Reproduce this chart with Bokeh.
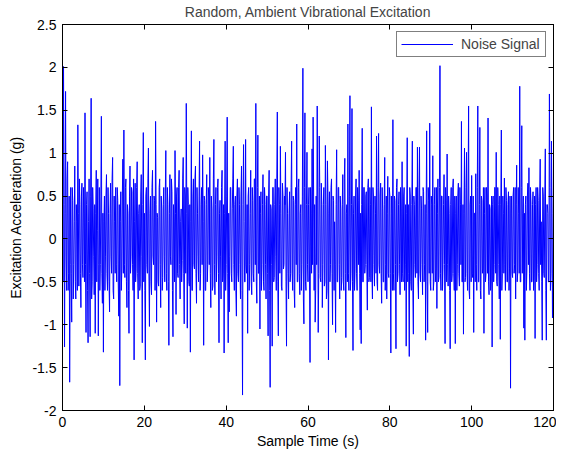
from bokeh.plotting import figure
from bokeh.models import (LinearAxis, FixedTicker, CustomJSTickFormatter, ColumnDataSource,
                          Legend, LegendItem)
from bokeh.embed import file_html
from bokeh.resources import INLINE

# ---- data (samples every 0.125 s) ----
sample_interval = 0.125
# samples at t = 0, 0.25, 0.5, ...
signal_a = [
    0.35, 2.01, -1.26, 1.72, -0.6, 0.9, -0.4, -1.67, 0.6, -0.97, 0.45, -0.3, 0.85, -0.7, 0.2, 1.33, -0.55, 0.4, -0.8, 0.65,
    -0.45, 0.3, 1.47, -1.09, 0.55, -1.21, 0.7, -1.14, 1.64, -0.5, 0.35, -0.65, -1.1, 0.8, 0.1, -1.13, 0.6, -0.3, 1.43, -0.75,
    -1.32, 0.5, -0.2, 0.75, -0.6, 0.3, -0.85, 0.65, -0.4, 0.95, -0.7, 0.2, 0.6, -0.5, 0.45, -0.9, -1.71, 0.55, -0.35, 0.93,
    1.27, -0.45, 0.7, -0.8, 0.3, -1.1, 0.85, -0.2, 0.55, -0.6, -1.41, 0.65, -0.35, 0.9, -0.7, 0.4, -0.55, 0.75, -1.21, 1.24,
    0.3, -1.41, 0.6, -0.4, 1.06, -1.02, 0.5, -0.65, 0.8, -0.3, 0.45, 1.37, -0.97, 0.25, -0.55, 0.7, -0.8, 0.35, -0.45, 0.6,
    -0.5, 1.03, -0.6, 0.4, -1.24, 0.75, -0.3, 0.55, -1.14, 0.2, 1.03, -0.88, 0.6, -0.45, 0.8, -0.7, 0.35, -0.25, 0.95, -0.99,
    0.5, 1.58, -1.04, 0.4, -0.55, -1.32, 1.26, -0.6, 0.7, -0.35, 0.85, -0.75, 0.3, -0.5, 1.14, -0.4, 0.6, 0.98, -1.24, 0.45,
    -0.6, 0.75, -0.3, 0.5, 0.95, -0.8, 0.35, -0.55, 1.16, -0.65, 0.6, -0.2, 0.7, -1.21, 0.45, -0.7, 0.8, -0.4, -1.33, 1.14,
    -0.3, 1.42, -1.21, -0.85, 0.6, -0.4, 0.35, 1.08, -0.6, 0.5, -0.9, 0.7, -0.5, 0.4, -0.7, 0.85, -1.82, 1.10, -0.5, 1.16,
    -0.4, -1.1, 0.6, -0.3, 0.8, -0.65, 0.45, -0.5, 0.7, 1.58, -0.75, 1.21, -0.4, -1.05, 0.55, -0.3, 0.75, -0.6, 0.4, -0.7,
    0.5, -1.13, 0.8, -1.73, 0.35, -1.25, 0.6, -0.45, 0.7, -0.6, 1.48, -1.13, 0.4, 1.08, -0.55, 0.65, -0.35, 0.5, 1.01, -1.25,
    0.3, -0.7, 0.55, -0.4, 1.14, -0.6, 0.45, -0.8, 0.6, 1.34, -0.5, 0.7, -0.65, 0.4, -0.3, 1.99, -0.99, 1.47, -0.6, 1.01,
    -0.5, 0.6, -1.44, 0.3, 1.05, 1.42, -0.6, -0.97, 0.5, 1.55, -1.09, 1.2, -0.45, 0.65, -0.8, 0.4, -0.55, 1.09, -0.7, 0.91,
    -1.41, 0.55, -0.3, 0.7, -1.0, 0.45, 0.2, -1.09, 1.04, -0.5, 0.6, -0.7, 0.35, -0.45, 0.75, -0.6, 0.94, -1.15, 0.4, 1.34,
    -0.6, 1.67, -0.4, 1.52, -1.3, 0.5, -0.35, 0.7, -0.6, 0.45, 0.8, -1.06, -1.22, 1.29, -0.5, 0.6, -0.3, 0.55, -0.83, 0.7,
    -0.45, 0.4, 1.54, -0.7, 0.5, -0.55, 0.3, 1.2, -0.6, 1.23, -0.4, 0.65, -0.75, 0.35, -0.5, 0.95, -0.3, -0.7, 0.73, -0.45,
    0.5, -1.33, 0.3, 1.39, -0.6, 0.45, -1.28, 0.7, -0.4, 0.55, -0.65, 0.35, 0.9, -0.5, 0.6, -0.3, -1.25, 1.18, 0.4, -1.37,
    0.5, -0.6, 1.14, -1.11, 0.4, -0.45, 0.6, 1.07, -0.7, 1.07, -0.5, 0.35, -0.65, 0.55, -0.3, -1.18, 1.26, -1.09, 0.45, 1.35,
    -0.6, 0.4, 0.97, -0.5, 0.6, -0.35, -0.81, 0.7, -0.45, 2.02, -0.6, 0.5, -0.3, 0.75, -1.22, 0.45, 0.99, -0.55, 0.3, -1.28,
    0.6, -0.4, 0.7, -0.6, -1.22, 0.5, -0.3, 0.65, -0.55, 0.4, 1.37, -0.5, -1.11, 1.06, -0.45, 1.01, -0.6, 1.55, -0.7, 0.5,
    0.74, -0.45, -1.09, 0.3, 0.76, -0.6, 1.55, -0.5, 1.3, -0.7, 0.45, -0.35, -1.1, 0.6, -0.4, 0.5, 1.41, -0.65, 0.35, -0.5,
    -1.26, 0.5, -0.3, 0.6, 1.01, -0.55, 0.4, -0.7, -1.17, 1.27, -0.4, 0.3, 0.71, -0.6, 0.45, -0.5, 0.55, -0.35, -1.74, 0.5,
    -0.45, 0.6, -0.3, -0.7, 0.86, -0.4, 0.3, 1.78, -0.5, 1.32, 0.3, -1.04, -1.18, 0.5, -0.35, 0.65, 0.83, -0.6, 0.4, -0.5,
    0.55, -0.4, -1.16, 0.6, -0.3, 0.45, -0.6, 0.93, 0.2, -1.18, 0.5, -0.45, 1.05, -1.18, 0.4, -0.5, 1.69, -0.6, 1.14, -0.92,
    0.6,
]
# samples at t = 0.125, 0.375, 0.625, ...
signal_b = [
    -0.5, 0.4, 0.3, -0.2, 0.7, -0.6, 0.5, -0.3, -0.4, 0.6, -0.7, 0.2, -0.5, 0.4, -0.6, 0.3, 0.7, -0.4, 0.5, -0.3,
    0.6, -0.5, -0.3, 0.4, -0.6, 0.2, -0.4, 0.5, -0.7, 0.6, -0.2, 0.4, 0.3, -0.5, 0.7, -0.3, -0.6, 0.5, -0.4, 0.3,
    0.2, -0.6, 0.5, -0.4, 0.6, -0.5, 0.3, -0.2, 0.7, -0.6, 0.5, -0.4, -0.3, 0.6, -0.5, 0.4, 0.2, -0.6, 0.5, -0.4,
    -0.3, 0.6, -0.5, 0.4, -0.6, 0.5, -0.4, 0.6, -0.3, 0.7, 0.2, -0.5, 0.6, -0.4, 0.3, -0.6, 0.5, -0.2, 0.4, -0.5,
    -0.6, 0.5, -0.3, 0.7, -0.4, 0.3, -0.5, 0.6, -0.2, 0.5, -0.6, 0.4, 0.3, -0.5, 0.6, -0.3, 0.5, -0.6, 0.4, -0.2,
    0.5, -0.4, 0.6, -0.5, 0.3, -0.2, 0.7, -0.6, 0.4, -0.5, 0.3, 0.5, -0.4, 0.6, -0.3, 0.2, -0.5, 0.7, -0.4, 0.6,
    -0.4, 0.3, 0.6, -0.5, 0.4, 0.2, -0.6, 0.5, -0.3, 0.7, -0.4, 0.6, -0.2, 0.5, -0.6, 0.4, -0.3, 0.2, 0.5, -0.6,
    0.4, -0.5, 0.6, -0.3, -0.4, 0.5, -0.6, 0.7, -0.3, 0.4, -0.5, 0.6, -0.4, 0.3, -0.2, 0.6, -0.5, 0.4, 0.3, -0.6,
    0.5, -0.4, 0.3, -0.2, 0.6, -0.5, 0.7, -0.3, 0.4, -0.6, 0.5, -0.4, 0.6, -0.3, 0.5, -0.6, 0.4, 0.2, -0.5, -0.3,
    0.4, 0.5, -0.6, 0.3, -0.5, 0.6, -0.4, 0.7, -0.3, -0.5, 0.6, -0.4, 0.5, 0.3, -0.6, 0.4, -0.5, 0.6, -0.3, 0.5,
    -0.4, 0.5, -0.6, 0.4, -0.3, 0.6, -0.5, 0.4, -0.2, 0.7, -0.5, 0.6, -0.4, 0.3, -0.6, 0.5, -0.3, 0.4, -0.5, 0.6,
    -0.4, 0.3, -0.5, 0.6, -0.4, 0.5, -0.6, 0.4, -0.3, -0.5, 0.6, -0.4, 0.3, -0.6, 0.5, -0.7, 0.6, -0.5, 0.4, -0.3,
    0.4, -0.5, 0.6, -0.4, -0.3, 0.5, 0.4, -0.6, -0.3, 0.5, -0.4, 0.6, -0.5, 0.4, -0.3, 0.6, -0.5, 0.4, -0.6, 0.5,
    0.3, -0.5, 0.6, -0.4, 0.5, -0.6, -0.3, 0.4, -0.5, 0.6, -0.3, 0.5, -0.6, 0.4, -0.5, 0.7, -0.4, 0.3, -0.5, -0.4,
    0.5, -0.6, 0.4, -0.5, 0.3, -0.6, 0.5, -0.4, 0.6, -0.3, -0.4, 0.3, 0.4, -0.5, 0.6, -0.4, 0.5, -0.3, 0.6, -0.5,
    0.6, -0.5, -0.4, 0.6, -0.3, 0.5, -0.4, -0.5, 0.6, -0.3, 0.5, -0.4, 0.6, -0.5, 0.4, -0.6, 0.5, 0.3, -0.4, 0.6,
    -0.4, 0.5, -0.6, -0.4, 0.5, -0.3, 0.6, -0.5, 0.4, -0.3, 0.6, -0.5, -0.4, 0.5, -0.6, 0.4, 0.3, -0.5, -0.4, 0.6,
    -0.5, 0.4, -0.6, 0.5, -0.3, 0.6, -0.4, -0.5, 0.6, -0.4, 0.5, -0.3, 0.6, -0.5, 0.4, 0.3, -0.5, 0.6, -0.4, -0.5,
    0.5, -0.4, -0.6, 0.4, -0.5, 0.6, 0.3, -0.5, 0.6, -0.4, 0.5, -0.6, 0.4, -0.3, 0.6, -0.5, -0.3, 0.5, -0.6, 0.4,
    -0.5, 0.6, -0.4, 0.5, 0.3, -0.6, 0.5, -0.4, 0.6, -0.3, -0.5, 0.4, 0.3, -0.5, 0.6, -0.4, 0.5, -0.6, 0.4, -0.5,
    -0.4, 0.5, 0.3, -0.5, -0.3, 0.6, -0.5, 0.4, -0.6, 0.5, -0.4, 0.6, 0.3, -0.5, 0.6, -0.4, -0.5, 0.4, -0.6, 0.5,
    0.4, -0.5, 0.6, -0.4, -0.5, 0.6, -0.3, 0.5, 0.4, -0.6, 0.5, -0.4, -0.3, 0.6, -0.5, 0.4, -0.6, 0.5, 0.3, -0.4,
    0.5, -0.4, 0.6, 0.4, -0.5, 0.6, -0.4, -0.5, 0.6, -0.4, 0.5, 0.3, 0.4, -0.6, 0.5, -0.3, -0.4, 0.6, -0.5, 0.4,
    -0.6, 0.5, 0.4, -0.5, 0.6, -0.4, 0.5, -0.3, -0.5, 0.6, -0.4, 0.5, -0.6, 0.4, 0.3, -0.5, 0.6, -0.4, 0.3, -0.4,
]
signal = []
for k, a in enumerate(signal_a):
    signal.append(a)
    if k < len(signal_b):
        signal.append(signal_b[k])
sample_time = [i * sample_interval for i in range(len(signal))]

x_ticks = [0, 20, 40, 60, 80, 100, 120]
y_ticks = [-2, -1.5, -1, -0.5, 0, 0.5, 1, 1.5, 2, 2.5]

title_text = "Random, Ambient Vibrational Excitation"
x_label = "Sample Time (s)"
y_label = "Excitation Acceleration (g)"
series_name = "Noise Signal"

FONT = "Liberation Sans"
FS = "14px"

p = figure(width=556, height=451, x_range=(0, 120), y_range=(-2, 2.5),
           output_backend="svg", toolbar_location=None,
           min_border_left=62, min_border_right=3, min_border_top=24, min_border_bottom=39)

p.title.text = title_text
p.title.align = "center"
p.title.vertical_align = "top"
p.title.text_font = FONT
p.title.text_font_size = FS
p.title.text_font_style = "normal"
p.title.standoff = 6
p.title.offset = 0

p.xgrid.visible = False
p.ygrid.visible = False
p.outline_line_color = "black"
p.outline_line_width = 1
p.background_fill_color = "white"
p.border_fill_color = "white"

fmt = CustomJSTickFormatter(code="return (Math.round(tick*10)/10).toString();")
blank_fmt = CustomJSTickFormatter(code="return '';")


def style_axis(ax, ticks, labels=True):
    ax.ticker = FixedTicker(ticks=ticks)
    ax.major_tick_in = 5
    ax.major_tick_out = 0
    ax.minor_tick_in = 0
    ax.minor_tick_out = 0
    ax.major_tick_line_color = "black"
    ax.axis_line_color = "black"
    ax.major_label_text_font = FONT
    ax.major_label_text_color = "black"
    ax.axis_label_text_font = FONT
    ax.axis_label_text_font_style = "normal"
    ax.axis_label_text_color = "black"
    ax.major_label_text_font_size = FS
    ax.axis_label_text_font_size = FS
    if labels:
        ax.formatter = fmt
    else:
        ax.formatter = blank_fmt
        ax.major_label_standoff = 0


style_axis(p.xaxis[0], x_ticks)
p.xaxis[0].axis_label = x_label
p.xaxis[0].major_label_standoff = 6
p.xaxis[0].axis_label_standoff = 3

style_axis(p.yaxis[0], y_ticks)
p.yaxis[0].axis_label = y_label
p.yaxis[0].major_label_standoff = 6
p.yaxis[0].axis_label_standoff = 5

top_axis = LinearAxis()
style_axis(top_axis, x_ticks, labels=False)
p.add_layout(top_axis, "above")
right_axis = LinearAxis()
style_axis(right_axis, y_ticks, labels=False)
p.add_layout(right_axis, "right")

src = ColumnDataSource(data=dict(t=sample_time, v=signal))
r = p.line("t", "v", source=src, line_color="#0000ff", line_width=1)

legend = Legend(items=[LegendItem(label=series_name, renderers=[r])], location="top_right")
legend.label_text_font = FONT
legend.label_text_font_size = FS
legend.border_line_color = "black"
legend.border_line_width = 1
legend.background_fill_alpha = 1
legend.glyph_width = 52
legend.glyph_height = 16
legend.label_height = 16
legend.label_width = 80
legend.padding = 4
legend.margin = 7
legend.spacing = 0
legend.label_standoff = 8
p.add_layout(legend)

open("out.html", "w").write(file_html(p, INLINE))
